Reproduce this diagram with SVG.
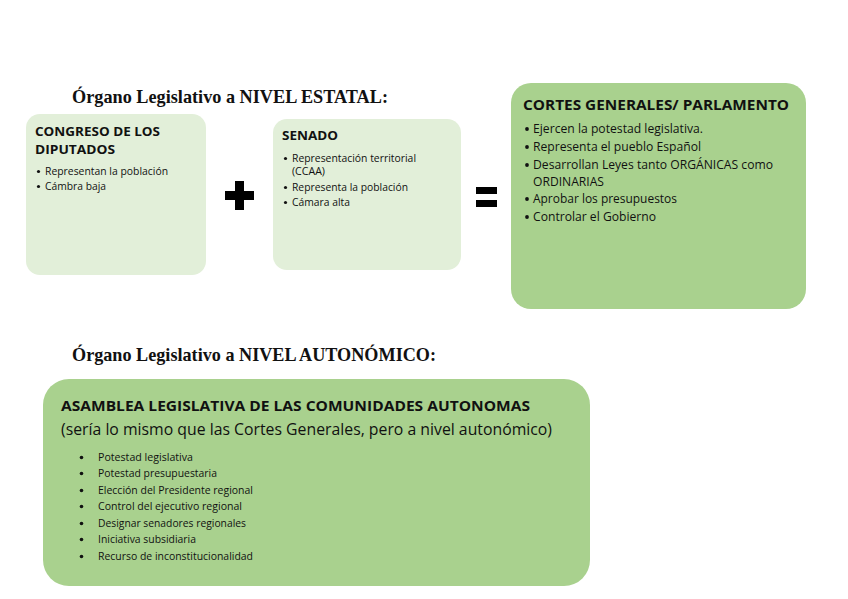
<svg xmlns="http://www.w3.org/2000/svg" width="848" height="599" viewBox="0 0 848 599">
<style>
.light{fill:#e2efd9;}
.dark{fill:#a9d18e;}
.ttl{font-family:"Liberation Serif",serif;font-weight:bold;font-size:19px;fill:#111;}
.hd{font-family:"Open Sans","Liberation Sans",sans-serif;font-weight:bold;fill:#111;}
.tx{font-family:"Open Sans","Liberation Sans",sans-serif;fill:#111;}
.sym{fill:#000;}
.b{fill:#111;}
</style>
<rect width="848" height="599" fill="#fff"/>
<text class="ttl" x="72" y="103" textLength="316" lengthAdjust="spacingAndGlyphs">Órgano Legislativo a NIVEL ESTATAL:</text>
<text class="ttl" x="72" y="361" textLength="364" lengthAdjust="spacingAndGlyphs">Órgano Legislativo a NIVEL AUTONÓMICO:</text>

<g id="congreso">
<rect class="light" x="26" y="114" width="180" height="161" rx="14"/>
<text class="hd" font-size="13" x="35" y="136" textLength="125" lengthAdjust="spacingAndGlyphs">CONGRESO DE LOS</text>
<text class="hd" font-size="13" x="35" y="154" textLength="80" lengthAdjust="spacingAndGlyphs">DIPUTADOS</text>
<circle class="b" cx="38.5" cy="171.5" r="1.6"/>
<text class="tx" font-size="10" x="45" y="175" textLength="123" lengthAdjust="spacingAndGlyphs">Representan la población</text>
<circle class="b" cx="38.5" cy="186.5" r="1.6"/>
<text class="tx" font-size="10" x="45" y="190" textLength="61" lengthAdjust="spacingAndGlyphs">Cámbra baja</text>
</g>

<g id="plus">
<rect class="sym" x="235" y="181" width="9" height="29"/>
<rect class="sym" x="225" y="191" width="29" height="9"/>
</g>

<g id="senado">
<rect class="light" x="273" y="119" width="188" height="151" rx="14"/>
<text class="hd" font-size="13" x="282" y="140" textLength="56" lengthAdjust="spacingAndGlyphs">SENADO</text>
<circle class="b" cx="285.5" cy="158.5" r="1.6"/>
<text class="tx" font-size="10" x="292" y="162" textLength="124" lengthAdjust="spacingAndGlyphs">Representación territorial</text>
<text class="tx" font-size="10" x="292" y="175" textLength="33" lengthAdjust="spacingAndGlyphs">(CCAA)</text>
<circle class="b" cx="285.5" cy="187.5" r="1.6"/>
<text class="tx" font-size="10" x="292" y="191" textLength="116" lengthAdjust="spacingAndGlyphs">Representa la población</text>
<circle class="b" cx="285.5" cy="202.5" r="1.6"/>
<text class="tx" font-size="10" x="292" y="206" textLength="58" lengthAdjust="spacingAndGlyphs">Cámara alta</text>
</g>

<g id="equals">
<rect class="sym" x="476" y="187" width="21" height="7"/>
<rect class="sym" x="476" y="200" width="21" height="7"/>
</g>

<g id="cortes">
<rect class="dark" x="511" y="83" width="295" height="226" rx="20"/>
<text class="hd" font-size="15" x="523" y="110" textLength="266" lengthAdjust="spacingAndGlyphs">CORTES GENERALES/ PARLAMENTO</text>
<circle class="b" cx="527" cy="129" r="1.9"/>
<text class="tx" font-size="12" x="533" y="133" textLength="170" lengthAdjust="spacingAndGlyphs">Ejercen la potestad legislativa.</text>
<circle class="b" cx="527" cy="147" r="1.9"/>
<text class="tx" font-size="12" x="533" y="151" textLength="168" lengthAdjust="spacingAndGlyphs">Representa el pueblo Español</text>
<circle class="b" cx="527" cy="165" r="1.9"/>
<text class="tx" font-size="12" x="533" y="169" textLength="240" lengthAdjust="spacingAndGlyphs">Desarrollan Leyes tanto ORGÁNICAS como</text>
<text class="tx" font-size="12" x="533" y="186" textLength="71" lengthAdjust="spacingAndGlyphs">ORDINARIAS</text>
<circle class="b" cx="527" cy="199" r="1.9"/>
<text class="tx" font-size="12" x="533" y="203" textLength="144" lengthAdjust="spacingAndGlyphs">Aprobar los presupuestos</text>
<circle class="b" cx="527" cy="217" r="1.9"/>
<text class="tx" font-size="12" x="533" y="221" textLength="123" lengthAdjust="spacingAndGlyphs">Controlar el Gobierno</text>
</g>

<g id="asamblea">
<rect class="dark" x="43" y="379" width="547" height="207" rx="26"/>
<text class="hd" font-size="15" x="61" y="411" textLength="469" lengthAdjust="spacingAndGlyphs">ASAMBLEA LEGISLATIVA DE LAS COMUNIDADES AUTONOMAS</text>
<text class="tx" font-size="16" x="61" y="435" textLength="491" lengthAdjust="spacingAndGlyphs">(sería lo mismo que las Cortes Generales, pero a nivel autonómico)</text>
<g font-size="10">
<circle class="b" cx="81.5" cy="457.5" r="1.8"/>
<text class="tx" x="98" y="461" textLength="95" lengthAdjust="spacingAndGlyphs">Potestad legislativa</text>
<circle class="b" cx="81.5" cy="473.5" r="1.8"/>
<text class="tx" x="98" y="477" textLength="119" lengthAdjust="spacingAndGlyphs">Potestad presupuestaria</text>
<circle class="b" cx="81.5" cy="490.5" r="1.8"/>
<text class="tx" x="98" y="494" textLength="155" lengthAdjust="spacingAndGlyphs">Elección del Presidente regional</text>
<circle class="b" cx="81.5" cy="506.5" r="1.8"/>
<text class="tx" x="98" y="510" textLength="144" lengthAdjust="spacingAndGlyphs">Control del ejecutivo regional</text>
<circle class="b" cx="81.5" cy="523.5" r="1.8"/>
<text class="tx" x="98" y="527" textLength="148" lengthAdjust="spacingAndGlyphs">Designar senadores regionales</text>
<circle class="b" cx="81.5" cy="539.5" r="1.8"/>
<text class="tx" x="98" y="543" textLength="98" lengthAdjust="spacingAndGlyphs">Iniciativa subsidiaria</text>
<circle class="b" cx="81.5" cy="556.5" r="1.8"/>
<text class="tx" x="98" y="560" textLength="155" lengthAdjust="spacingAndGlyphs">Recurso de inconstitucionalidad</text>
</g>
</g>
<g id="connectors"/>
</svg>
